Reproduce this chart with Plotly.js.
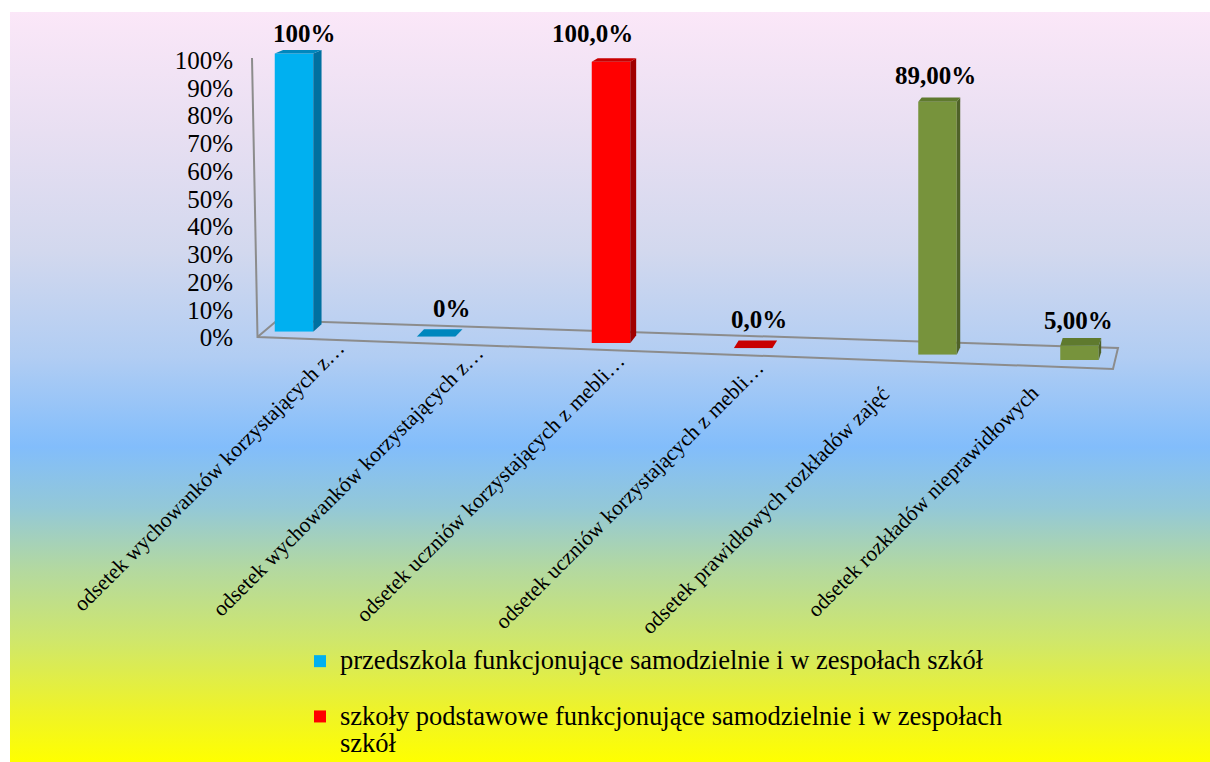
<!DOCTYPE html>
<html>
<head>
<meta charset="utf-8">
<script src="https://cdn.plot.ly/plotly-3.0.1.min.js"></script>
<style>
  html, body { margin: 0; padding: 0; background: #ffffff; }
  #backdrop {
    position: absolute; left: 10px; top: 12px; width: 1200px; height: 750px;
    background: linear-gradient(to bottom,
      #fbe7f8 0%, #e8dff2 16%, #d2d8ee 32%, #b1cdf3 46%, #82bdfb 58%,
      #93c8d8 66%, #b2d8a2 74%, #d0e76a 84%, #eef32a 93%, #ffff00 100%);
  }
  #chart { position: absolute; left: 0; top: 0; width: 1210px; height: 762px; }
</style>
</head>
<body>
<div id="backdrop"></div>
<div id="chart"></div>
<script>
// ---- data ----
const categories = [
  'odsetek wychowanków korzystających z…',
  'odsetek wychowanków korzystających z…',
  'odsetek uczniów korzystających z mebli…',
  'odsetek uczniów korzystających z mebli…',
  'odsetek prawidłowych rozkładów zajęć',
  'odsetek rozkładów nieprawidłowych'
];
const seriesNames = [
  'przedszkola funkcjonujące samodzielnie i w zespołach szkół',
  'szkoły podstawowe funkcjonujące samodzielnie i w zespołach<br>szkół',
  'rozkłady zajęć'
];
const przedszkola      = [100, 0, null, null, null, null];
const szkolyPodstawowe = [null, null, 100, 0, null, null];
const rozkladyZajec    = [null, null, null, null, 89, 5];
const tickVals = [0, 10, 20, 30, 40, 50, 60, 70, 80, 90, 100];
const tickText = ['0%', '10%', '20%', '30%', '40%', '50%', '60%', '70%', '80%', '90%', '100%'];

// ---- styling ----
const FONT = 'Liberation Serif, Times New Roman, serif';
const seriesValues = [przedszkola, szkolyPodstawowe, rozkladyZajec];
const frontColors = ['#00B0F0', '#FF0000', '#77933C'];
const sideColors  = ['#0070A0', '#A00000', '#4F6228'];
const topColors   = ['#0087BD', '#C80000', '#5F7A2E'];
const decimals    = [0, 1, 2];
const showInLegend = [true, true, false];
const seriesOffsetPx = [-33, 0, 42.5];   // horizontal shift of each series inside its slot
const barWidthPx = 38.5;
const legendGlyphPx = 26.5;               // legend glyph size; line pitch follows legend.font.size

// plot frame (pixels)
const W = 1210, H = 762;
const L = 256, R = 1108, T = 30, B = 400;
const pxPerCat = (R - L) / categories.length;
const toPaperX = px => (px - L) / (R - L);
const toPaperY = py => (B - py) / (B - T);
const catX = k => L + (k + 0.5) * pxPerCat;

// receding floor: baseline and 100% level drift downwards to the right
const baseY   = x => 331.7 + 0.036 * (x - 294);
const top100Y = x => 53.5 + 0.0263 * (x - 294);
const depthX  = x => 8.3 - 0.0075 * (x - 294);
const depthY  = y => 3.5 + 0.014 * (y - 55);

// value labels and category labels placement
const valueLabelDx = [10, 16, -19, 6, -2, -1];
const valueLabelDy = [20, 28, 28, 29, 26, 25];
const catLabelDx = [25, 22, 21, 18, 2, 10];
const catLabelTopY = [333, 338, 346, 353, 378, 378];

const fmt = (v, d) => v.toFixed(d).replace('.', ',') + '%';
const legendName = n => n.split('<br>')
  .map(line => `<span style="font-size:${legendGlyphPx}px">${line}</span>`).join('<br>');

// empty trace so the percentage axis gets its own subplot
const traces = [{
  type: 'scatter', mode: 'none', x: [], y: [], xaxis: 'x', yaxis: 'y',
  showlegend: false, hoverinfo: 'skip'
}];
const shapes = [];
const annotations = [];
const layout = {
  width: W, height: H,
  margin: { l: L, r: W - R, t: T, b: H - B, pad: 0, autoexpand: false },
  paper_bgcolor: 'rgba(0,0,0,0)',
  plot_bgcolor: 'rgba(0,0,0,0)',
  font: { family: FONT, color: '#000000' },
  barmode: 'overlay',
  showlegend: true,
  xaxis: { type: 'linear', range: [-0.5, categories.length - 0.5], visible: false, fixedrange: true, anchor: 'y' },
  yaxis: {
    domain: [toPaperY(337.5), toPaperY(60)], range: [0, 100], anchor: 'x',
    tickvals: tickVals, ticktext: tickText, ticks: '', showgrid: false, zeroline: false, showline: false,
    tickfont: { family: FONT, size: 25, color: '#000000' }, ticklabelstandoff: 22, fixedrange: true
  },
  legend: {
    x: toPaperX(300), y: toPaperY(641), xanchor: 'left', yanchor: 'top',
    font: { family: FONT, size: 21, color: '#000000' },
    bgcolor: 'rgba(0,0,0,0)', traceorder: 'grouped', tracegroupgap: 25,
    valign: 'top', itemwidth: 30
  }
};

let axisNo = 2;
seriesValues.forEach((vals, s) => {
  let first = true;
  vals.forEach((v, k) => {
    if (v === null) return;
    const ax = 'y' + axisNo;
    const cx = catX(k) + seriesOffsetPx[s];
    const b = baseY(cx), t = top100Y(cx);
    const pxPerUnit = (b - t) / 100;
    layout['yaxis' + axisNo] = {
      domain: [toPaperY(b), toPaperY(b - 105 * pxPerUnit)],
      range: [0, 105], anchor: 'x', visible: false, fixedrange: true
    };
    const off = seriesOffsetPx[s] / pxPerCat;
    const w = barWidthPx / pxPerCat;
    traces.push({
      type: 'bar', x: [k], y: [v], xaxis: 'x', yaxis: ax,
      width: [w], offset: [off - w / 2],
      marker: { color: frontColors[s], line: { width: 0 } },
      name: legendName(seriesNames[s]), legendgroup: 'g' + s,
      showlegend: showInLegend[s] && first, hoverinfo: 'skip'
    });
    first = false;

    // depth faces of the block
    const xl = k + off - w / 2, xr = k + off + w / 2;
    const dx = depthX(cx) / pxPerCat;
    const dyTop = depthY(b - v * pxPerUnit) / pxPerUnit;
    const dyBase = depthY(b) / pxPerUnit;
    if (v > 0) {
      shapes.push({
        type: 'path', xref: 'x', yref: ax, layer: 'above',
        path: `M${xr},0 L${xr},${v} L${xr + dx},${v + dyTop} L${xr + dx},${dyBase} Z`,
        fillcolor: sideColors[s], line: { width: 0 }
      });
    }
    shapes.push({
      type: 'path', xref: 'x', yref: ax, layer: 'above',
      path: `M${xl},${v} L${xr},${v} L${xr + dx},${v + dyTop} L${xl + dx},${v + dyTop} Z`,
      fillcolor: topColors[s], line: { width: 0 }
    });

    // value label
    annotations.push({
      xref: 'x', yref: ax, x: k + off, y: v, showarrow: false,
      xanchor: 'center', yanchor: 'middle',
      xshift: valueLabelDx[axisNo - 2], yshift: valueLabelDy[axisNo - 2],
      text: '<b>' + fmt(v, decimals[s]) + '</b>',
      font: { family: FONT, size: 25, color: '#000000' }
    });
    axisNo++;
  });
});

// category labels, slanted
categories.forEach((c, k) => {
  annotations.push({
    xref: 'x', yref: 'paper', x: k, y: toPaperY(catLabelTopY[k]),
    xshift: catLabelDx[k], xanchor: 'right', yanchor: 'top',
    textangle: -45, showarrow: false, text: c,
    font: { family: FONT, size: 21.5, color: '#000000' }
  });
});

// floor outline and wall edge
const P = (x, y) => `${toPaperX(x)},${toPaperY(y)}`;
shapes.unshift({
  type: 'path', xref: 'paper', yref: 'paper', layer: 'below',
  path: `M${P(252, 58)} L${P(257.5, 337)} L${P(1113, 369)} L${P(1118, 348)} L${P(277, 320.5)} L${P(257.5, 337)}`,
  line: { color: '#8C8C8C', width: 2 }, fillcolor: 'rgba(0,0,0,0)'
});

layout.shapes = shapes;
layout.annotations = annotations;

Plotly.newPlot('chart', traces, layout, { staticPlot: true, displayModeBar: false });
</script>
</body>
</html>
